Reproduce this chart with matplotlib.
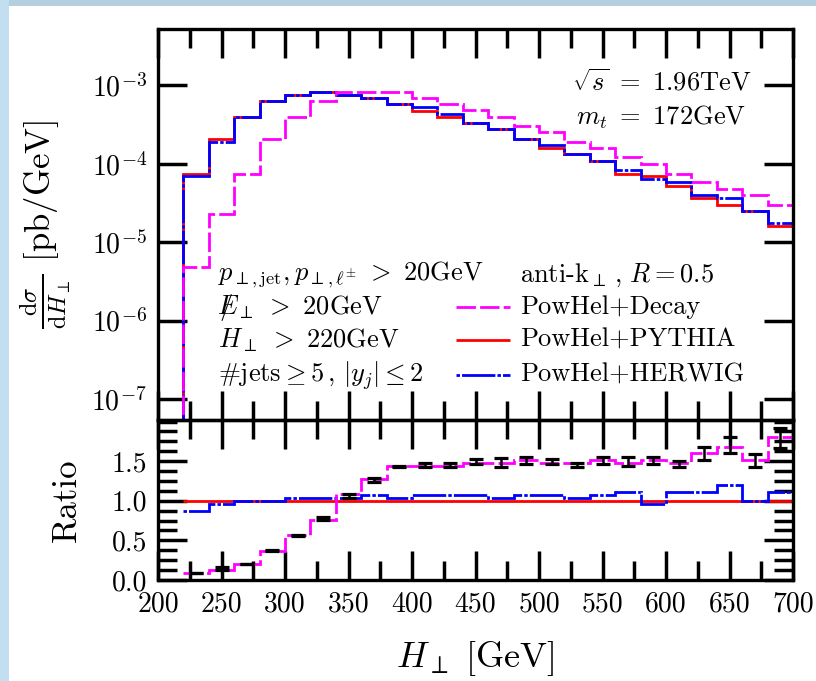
import matplotlib
matplotlib.use('Agg')
import matplotlib.pyplot as plt
import numpy as np
from matplotlib.patches import Rectangle
from matplotlib.ticker import MultipleLocator, FixedLocator, NullLocator, FormatStrFormatter

plt.rcParams['mathtext.fontset'] = 'cm'
plt.rcParams['font.family'] = 'serif'
plt.rcParams['font.serif'] = ['cmr10', 'DejaVu Serif']
plt.rcParams['axes.formatter.use_mathtext'] = False
plt.rcParams['lines.scale_dashes'] = False

# H_perp bin edges [GeV]
edges = [220, 240, 260, 280, 300, 320, 340, 360, 380, 400, 420, 440, 460,
         480, 500, 520, 540, 560, 580, 600, 620, 640, 660, 680, 700]

# dsigma/dH_perp [pb/GeV]
decay = [4.8e-6, 2.26e-5, 7.5e-5, 2.05e-4, 3.9e-4, 6.25e-4, 8.1e-4, 8.1e-4,
         8.1e-4, 6.8e-4, 5.7e-4, 4.8e-4, 3.9e-4, 3.0e-4, 2.51e-4, 1.87e-4,
         1.57e-4, 1.21e-4, 9.8e-5, 7.5e-5, 5.8e-5, 4.71e-5, 3.95e-5, 3.0e-5]
pythia = [7.5e-5, 2.05e-4, 3.9e-4, 6.25e-4, 7.45e-4, 8.1e-4, 7.45e-4, 6.8e-4,
          5.7e-4, 4.75e-4, 3.9e-4, 3.27e-4, 2.75e-4, 2.05e-4, 1.57e-4, 1.32e-4,
          1.07e-4, 7.5e-5, 6.9e-5, 5.15e-5, 3.62e-5, 3.0e-5, 2.49e-5, 1.59e-5]
herwig = [6.9e-5, 1.87e-4, 3.9e-4, 6.25e-4, 7.45e-4, 8.1e-4, 7.45e-4, 6.8e-4,
          5.7e-4, 5.25e-4, 4.27e-4, 3.27e-4, 2.75e-4, 2.05e-4, 1.72e-4, 1.32e-4,
          1.07e-4, 8.24e-5, 6.3e-5, 5.8e-5, 3.95e-5, 3.62e-5, 2.49e-5, 1.74e-5]

# ratios to PowHel+PYTHIA
ratio_decay = [0.089, 0.127, 0.203, 0.371, 0.565, 0.759, 1.080, 1.278, 1.434,
               1.434, 1.434, 1.476, 1.476, 1.519, 1.476, 1.476, 1.519, 1.476,
               1.519, 1.476, 1.599, 1.679, 1.519, 1.801]
ratio_herwig = [0.877, 0.962, 1.0, 1.0, 1.038, 1.038, 1.038, 1.076, 1.038,
                1.076, 1.076, 1.076, 1.038, 1.076, 1.076, 1.038, 1.076, 1.114,
                0.962, 1.114, 1.114, 1.203, 1.0, 1.114]
ratio_pythia = np.divide(pythia, pythia)

# black points with errors
pt_x = [230, 250, 270, 290, 310, 330, 350, 370, 390, 410, 430, 450, 470, 490,
        510, 530, 550, 570, 590, 610, 630, 650, 670, 690]
pt_y = [0.089, 0.145, 0.203, 0.371, 0.565, 0.776, 1.057, 1.259, 1.434, 1.451,
        1.451, 1.493, 1.478, 1.508, 1.493, 1.451, 1.508, 1.493, 1.508, 1.465,
        1.596, 1.700, 1.510, 1.789]
pt_err = [0.005, 0.019, 0.004, 0.004, 0.008, 0.019, 0.023, 0.023, 0.004, 0.03,
          0.03, 0.03, 0.057, 0.048, 0.03, 0.03, 0.045, 0.057, 0.045, 0.04,
          0.082, 0.10, 0.084, 0.127]

MAG, RED, BLUE = '#ff00ff', '#ff0000', '#0000ff'
dash_mag = (0, (14, 3))
dash_blue = (0, (2.5, 1.5, 24, 1.5))

fig = plt.figure(figsize=(8.16, 6.81), dpi=100)
fig.patch.set_facecolor('white')
# light-blue slide frame
fig.add_artist(Rectangle((0, 1 - 6 / 681), 1, 6 / 681, transform=fig.transFigure,
                         facecolor='#b4cfe0', lw=0))
fig.add_artist(Rectangle((0, 0), 9 / 816, 1, transform=fig.transFigure,
                         facecolor='#c2def0', lw=0))

L, R = 158 / 816, 793 / 816
ax1 = fig.add_axes([L, 1 - 420 / 681, R - L, (420 - 29) / 681])
ax2 = fig.add_axes([L, 1 - 580 / 681, R - L, (580 - 420) / 681])

# ---------------- upper panel ----------------
ax1.stairs(pythia, edges, baseline=1e-9, color=RED, lw=2, zorder=2)
ax1.stairs(herwig, edges, baseline=1e-9, color=BLUE, lw=2, linestyle=dash_blue, zorder=2.1)
ax1.stairs(decay, edges, baseline=1e-9, color=MAG, lw=2, linestyle=dash_mag, zorder=2.2)

ax1.set_yscale('log')
ax1.set_xlim(200, 700)
ax1.set_ylim(10 ** -7.268, 10 ** -2.282)
ax1.yaxis.set_major_locator(FixedLocator([1e-7, 1e-6, 1e-5, 1e-4, 1e-3]))
ax1.yaxis.set_minor_locator(NullLocator())
ax1.set_yticklabels([r'$10^{-7}$', r'$10^{-6}$', r'$10^{-5}$', r'$10^{-4}$', r'$10^{-3}$'])
ax1.xaxis.set_major_locator(MultipleLocator(50))
ax1.xaxis.set_minor_locator(MultipleLocator(25))
ax1.tick_params(labelbottom=False)

ax1.set_ylabel(r'$\frac{\mathrm{d}\sigma}{\mathrm{d}H_{\perp}}\ [\mathrm{pb/GeV}]$', fontsize=25)
ax1.yaxis.set_label_coords(-0.134, 0.5)

tk = dict(transform=ax1.transAxes, fontsize=19, va='center')
ax1.text(0.934, 0.864, r'$\sqrt{s}\ =\ 1.96\mathrm{TeV}$', ha='right', **tk)
ax1.text(0.926, 0.775, r'$m_t\ =\ 172\mathrm{GeV}$', ha='right', **tk)
ax1.text(0.094, 0.371, r'$p_{\perp,\mathrm{jet}}, p_{\perp,\ell^{\pm}}\ >\ 20\mathrm{GeV}$', **tk)
ax1.text(0.094, 0.289, r'$/\!\!\!\!E_{\perp}\ >\ 20\mathrm{GeV}$', **tk)
ax1.text(0.094, 0.205, r'$H_{\perp}\ >\ 220\mathrm{GeV}$', **tk)
ax1.text(0.094, 0.115, r'$\#\mathrm{jets}\geq 5\,,\,|y_j|\leq 2$', **tk)
ax1.text(0.570, 0.371, r'$\mathrm{anti}$-$\mathrm{k}_{\perp}\,,\,R=0.5$', **tk)

# legend drawn by hand
leg = [('PowHel+Decay', MAG, dash_mag, 0.289),
       ('PowHel+PYTHIA', RED, '-', 0.205),
       ('PowHel+HERWIG', BLUE, dash_blue, 0.115)]
for name, col, ls, yy in leg:
    ax1.plot([0.470, 0.554], [yy, yy], transform=ax1.transAxes, color=col,
             lw=2, linestyle=ls, solid_capstyle='butt', dash_capstyle='butt')
    ax1.text(0.571, yy, name, **tk)

# ---------------- lower panel ----------------
ax2.stairs(ratio_pythia, edges, baseline=None, color=RED, lw=2, zorder=2)
ax2.stairs(ratio_herwig, edges, baseline=None, color=BLUE, lw=2, linestyle=dash_blue, zorder=2.1)
ax2.stairs(ratio_decay, edges, baseline=None, color=MAG, lw=2, linestyle=dash_mag, zorder=2.2)
ax2.errorbar(pt_x, pt_y, yerr=pt_err, fmt='none', ecolor='black', elinewidth=1.8,
             capsize=4.7, capthick=2.3, zorder=3)

ax2.set_xlim(200, 700)
ax2.set_ylim(0, 2.02)
ax2.set_yticks([0.0, 0.5, 1.0, 1.5])
ax2.set_yticklabels(['0.0', '0.5', '1.0', '1.5'])
ax2.yaxis.set_minor_locator(MultipleLocator(0.125))
ax2.xaxis.set_major_locator(MultipleLocator(50))
ax2.xaxis.set_minor_locator(MultipleLocator(25))
ax2.xaxis.set_major_formatter(FormatStrFormatter('%d'))

ax2.set_ylabel('Ratio', fontsize=25)
ax2.yaxis.set_label_coords(-0.118, 0.5)
ax2.set_xlabel(r'$H_{\perp}\ [\mathrm{GeV}]$', fontsize=26)
ax2.xaxis.set_label_coords(0.5, -0.37)
ax2.xaxis.label.set_va('top')

for ax in (ax1, ax2):
    for s in ax.spines.values():
        s.set_linewidth(2.4)
        s.set_zorder(5)
    ax.tick_params(which='both', direction='in', top=True, right=True, width=2.5)
    ax.tick_params(which='major', length=21, labelsize=20, pad=8)
    ax.tick_params(which='minor', length=14)
    ax.set_facecolor('none')

fig.savefig('out.png', dpi=100)
